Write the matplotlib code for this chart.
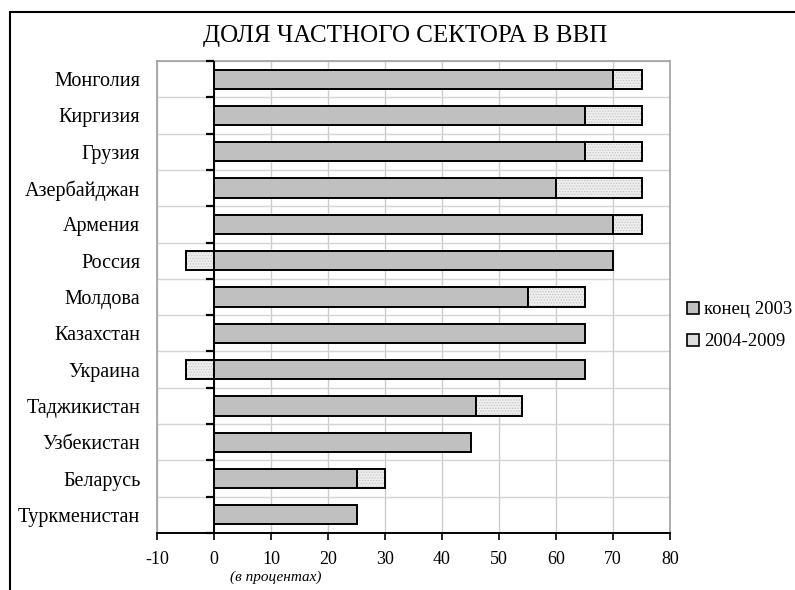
import numpy as np
import matplotlib
matplotlib.use("Agg")
import matplotlib.pyplot as plt
from matplotlib.patches import Patch, Rectangle

plt.rcParams['font.family'] = ['Liberation Serif', 'DejaVu Serif']
plt.rcParams['hatch.linewidth'] = 0.6

countries = ["Монголия", "Киргизия", "Грузия", "Азербайджан", "Армения", "Россия",
             "Молдова", "Казахстан", "Украина", "Таджикистан", "Узбекистан",
             "Беларусь", "Туркменистан"]
end_2003 = [70, 65, 65, 60, 70, 70, 55, 65, 65, 46, 45, 25, 25]
change_2004_2009 = [5, 10, 10, 15, 5, -5, 10, 0, -5, 8, 0, 5, 0]
series_names = ["конец 2003", "2004-2009"]
x_ticks = [-10, 0, 10, 20, 30, 40, 50, 60, 70, 80]

c1 = "#c0c0c0"
c2 = "#eeeeee"
dots = "#c4c4c4"

fig = plt.figure(figsize=(7.95, 5.9), dpi=100)
ax = fig.add_axes([157 / 795, 1 - 533 / 590, (670 - 157) / 795, (533 - 61) / 590])

n = len(countries)
y = np.arange(n)[::-1]
a = np.array(end_2003, dtype=float)
b = np.array(change_2004_2009, dtype=float)
left2 = np.where(b >= 0, a, 0)

ax.barh(y, a, height=0.53, color=c1, edgecolor="black", linewidth=1.4, zorder=3)
mask = b != 0
# stippled fill, then black outline on top
ax.barh(y[mask], b[mask], left=left2[mask], height=0.53, color=c2,
        edgecolor=dots, linewidth=0, zorder=3, hatch="......")
ax.barh(y[mask], b[mask], left=left2[mask], height=0.53, fill=False,
        edgecolor="black", linewidth=1.4, zorder=3.5)

ax.set_xlim(-10, 80)
ax.set_ylim(-0.5, n - 0.5)
ax.set_xticks(x_ticks)
ax.set_xticklabels([str(t) for t in x_ticks], fontsize=13)
ax.set_yticks(y)
ax.set_yticklabels(countries, fontsize=14.5)
ax.tick_params(axis="y", length=0, pad=12)
ax.tick_params(axis="x", length=5, width=1.2, direction="out", pad=8)

# grid
bounds = np.arange(n + 1) - 0.5
ax.set_yticks(bounds, minor=True)
ax.grid(axis="x", which="major", color="#cccccc", linewidth=1, zorder=0)
ax.grid(axis="y", which="minor", color="#d4d4d4", linewidth=1, zorder=0)
ax.tick_params(axis="y", which="minor", length=0)

for s in ["left", "right", "top"]:
    ax.spines[s].set_color("#a0a0a0")
    ax.spines[s].set_linewidth(1.2)
ax.spines["bottom"].set_color("black")
ax.spines["bottom"].set_linewidth(1.4)
ax.spines["bottom"].set_zorder(4)

# category axis at x = 0 with ticks between categories
ax.axvline(0, color="black", linewidth=1.4, zorder=4)
ax.plot(np.zeros(n + 1), bounds, ls="none", marker=0, ms=6, mew=1.6,
        color="black", clip_on=False, zorder=4)

fig.text(405 / 795, 1 - 36 / 590, "ДОЛЯ ЧАСТНОГО СЕКТОРА В ВВП", fontsize=18,
         ha="center", va="center")
fig.text(276 / 795, 1 - 577 / 590, "(в процентах)", fontsize=11, style="italic",
         ha="center", va="center")

handles = [Patch(facecolor=c1, edgecolor="black", linewidth=1.2),
           Patch(facecolor="#dddddd", edgecolor="black", linewidth=1.2)]
fig.legend(handles, series_names, loc="upper left",
           bbox_to_anchor=(679 / 795, 1 - 294 / 590), frameon=False,
           fontsize=13.5, handlelength=0.65, handleheight=0.65,
           handletextpad=0.3, labelspacing=0.8, borderaxespad=0)

fig.add_artist(Rectangle((10 / 795, -0.1), 1.2, 1.1 - 12 / 590,
                         transform=fig.transFigure, fill=False,
                         edgecolor="black", linewidth=1.5))

fig.savefig("out.png", dpi=100)
